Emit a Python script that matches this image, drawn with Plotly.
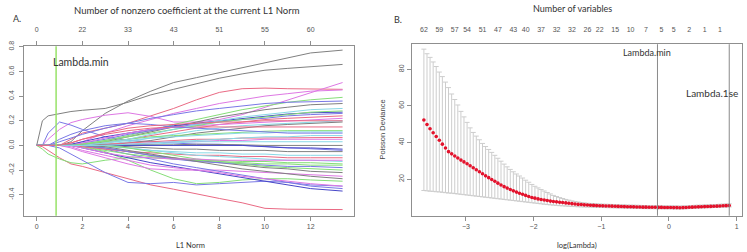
import plotly.graph_objects as go

# ---------------- Panel A data: coefficient paths vs L1 norm ----------------
l1_norm = [0, 0.25, 0.5, 1, 1.5, 2, 3, 4, 5, 6, 7, 8, 9, 10, 11, 12, 13.4]
top_a_vals = [0, 2, 4, 6, 8, 10, 12]
top_a_text = ["0", "22", "33", "43", "51", "55", "60"]

coef_paths = [
    ("K", [0, 0, 0, 0, 0.03, 0.12, 0.26, 0.36, 0.44, 0.51, 0.55, 0.59, 0.63, 0.67, 0.71, 0.75, 0.773]),
    ("K", [0, 0.2, 0.24, 0.26, 0.275, 0.285, 0.30, 0.35, 0.41, 0.455, 0.50, 0.545, 0.58, 0.61, 0.625, 0.64, 0.657]),
    ("R", [0, 0, 0, 0, 0.05, 0.1, 0.14, 0.18, 0.24, 0.30, 0.37, 0.43, 0.46, 0.465, 0.46, 0.46, 0.455]),
    ("M", [0, 0, 0.05, 0.13, 0.185, 0.21, 0.245, 0.265, 0.235, 0.19, 0.19, 0.21, 0.25, 0.31, 0.37, 0.43, 0.51]),
    ("M", [0, 0, 0, 0, 0, 0.03, 0.1, 0.16, 0.21, 0.26, 0.30, 0.34, 0.37, 0.40, 0.42, 0.44, 0.45]),
    ("G", [0, 0, 0, 0, 0, 0.01, 0.04, 0.08, 0.12, 0.17, 0.21, 0.25, 0.29, 0.32, 0.35, 0.37, 0.39]),
    ("K", [0, 0, 0, 0, 0, 0, 0.03, 0.07, 0.11, 0.15, 0.19, 0.23, 0.26, 0.29, 0.31, 0.33, 0.34]),
    ("B", [0, 0, 0, 0.03, 0.06, 0.09, 0.14, 0.18, 0.22, 0.25, 0.28, 0.30, 0.32, 0.34, 0.35, 0.355, 0.36]),
    ("B", [0, 0, 0.1, 0.19, 0.165, 0.13, 0.07, 0.04, 0.03, 0.02, 0.01, 0.01, 0.0, -0.01, -0.02, -0.03, -0.04]),
    ("D", [0, 0, 0, 0, 0.01, 0.03, 0.07, 0.10, 0.13, 0.16, 0.18, 0.20, 0.22, 0.24, 0.255, 0.265, 0.27]),
    ("B", [0, 0, 0, 0, 0, 0.02, 0.05, 0.09, 0.12, 0.15, 0.17, 0.19, 0.21, 0.22, 0.24, 0.25, 0.26]),
    ("R", [0, 0, 0, 0, 0, 0, 0.02, 0.05, 0.08, 0.11, 0.14, 0.17, 0.19, 0.21, 0.22, 0.23, 0.24]),
    ("M", [0, 0, 0, 0, 0, 0.02, 0.06, 0.10, 0.13, 0.15, 0.16, 0.17, 0.18, 0.19, 0.20, 0.21, 0.22]),
    ("C", [0, 0, 0, 0, 0, 0, 0.01, 0.03, 0.06, 0.09, 0.12, 0.14, 0.16, 0.17, 0.18, 0.19, 0.20]),
    ("K", [0, 0, 0, 0, 0, 0, 0, 0.02, 0.04, 0.07, 0.10, 0.12, 0.14, 0.16, 0.17, 0.18, 0.19]),
    ("G", [0, 0, 0, 0, 0, 0.01, 0.03, 0.05, 0.07, 0.08, 0.09, 0.10, 0.11, 0.115, 0.12, 0.12, 0.12]),
    ("C", [0, 0, 0, 0, 0, 0, 0.02, 0.04, 0.06, 0.07, 0.08, 0.09, 0.10, 0.10, 0.11, 0.11, 0.11]),
    ("R", [0, 0, 0, 0, 0.02, 0.05, 0.09, 0.12, 0.14, 0.15, 0.15, 0.15, 0.15, 0.15, 0.15, 0.15, 0.15]),
    ("R", [0, 0, 0, 0, 0, 0, 0.01, 0.02, 0.03, 0.04, 0.05, 0.05, 0.06, 0.06, 0.06, 0.06, 0.065]),
    ("M", [0, 0, 0, 0, 0, 0, 0, 0.01, 0.02, 0.03, 0.03, 0.04, 0.04, 0.05, 0.05, 0.05, 0.05]),
    ("C", [0, 0, 0, 0, 0, 0, 0, 0, 0.01, 0.02, 0.03, 0.03, 0.03, 0.03, 0.03, 0.03, 0.03]),
    ("K", [0, 0, 0, 0, 0, 0, 0, 0, 0, 0.005, 0.01, 0.01, 0.005, 0, 0, 0, 0]),
    ("D", [0, 0, 0, 0, 0, 0, 0, 0, 0, 0, 0, 0, 0, -0.01, -0.02, -0.02, -0.03]),
    ("R", [0, -0.01, -0.04, -0.1, -0.15, -0.17, -0.22, -0.27, -0.32, -0.355, -0.395, -0.43, -0.465, -0.51, -0.517, -0.517, -0.52]),
    ("G", [0, -0.03, -0.07, -0.11, -0.14, -0.15, -0.12, -0.10, -0.10, -0.11, -0.12, -0.12, -0.13, -0.13, -0.14, -0.14, -0.15]),
    ("B", [0, 0, 0, -0.02, -0.07, -0.12, -0.22, -0.30, -0.31, -0.30, -0.32, -0.31, -0.30, -0.29, -0.30, -0.32, -0.33]),
    ("G", [0, 0, 0, 0, 0, -0.01, -0.05, -0.12, -0.2, -0.27, -0.31, -0.3, -0.28, -0.27, -0.27, -0.28, -0.29]),
    ("M", [0, 0, 0, 0, -0.02, -0.05, -0.1, -0.15, -0.19, -0.2, -0.2, -0.2, -0.21, -0.22, -0.23, -0.24, -0.25]),
    ("D", [0, 0, 0, 0, 0, -0.02, -0.06, -0.10, -0.14, -0.17, -0.2, -0.23, -0.26, -0.29, -0.32, -0.35, -0.37]),
    ("B", [0, 0, 0, 0, 0, 0, -0.03, -0.07, -0.11, -0.15, -0.18, -0.21, -0.24, -0.27, -0.3, -0.33, -0.35]),
    ("M", [0, 0, 0, 0, -0.01, -0.04, -0.08, -0.12, -0.16, -0.18, -0.2, -0.22, -0.25, -0.27, -0.29, -0.31, -0.33]),
    ("K", [0, 0, 0, 0, 0, 0, -0.02, -0.05, -0.08, -0.1, -0.12, -0.14, -0.16, -0.18, -0.19, -0.21, -0.22]),
    ("G", [0, 0, 0, 0, 0, -0.01, -0.04, -0.07, -0.09, -0.11, -0.12, -0.13, -0.14, -0.15, -0.15, -0.16, -0.16]),
    ("C", [0, 0, 0, 0, 0, 0, -0.01, -0.02, -0.04, -0.05, -0.06, -0.06, -0.07, -0.07, -0.08, -0.08, -0.08]),
    ("K", [0, 0, 0, 0, 0, 0, 0, -0.01, -0.02, -0.03, -0.03, -0.04, -0.04, -0.04, -0.05, -0.05, -0.05]),
    ("R", [0, 0, 0, 0, 0, -0.01, -0.03, -0.05, -0.06, -0.07, -0.08, -0.08, -0.09, -0.09, -0.1, -0.1, -0.1]),
    ("B", [0, 0, 0, 0, 0, 0, -0.02, -0.05, -0.08, -0.11, -0.13, -0.14, -0.15, -0.16, -0.17, -0.17, -0.18]),
    ("C", [0, 0, 0, 0, 0, 0, 0, -0.02, -0.04, -0.06, -0.08, -0.09, -0.1, -0.11, -0.12, -0.12, -0.13]),
    ("K", [0, 0, 0, 0, 0, 0, -0.01, -0.04, -0.07, -0.1, -0.13, -0.16, -0.19, -0.21, -0.23, -0.25, -0.27]),
    ("G", [0, 0, 0, 0, 0, 0, 0, -0.02, -0.05, -0.08, -0.11, -0.13, -0.15, -0.17, -0.18, -0.19, -0.2]),
    ("M", [0, 0, 0, 0, 0, -0.02, -0.06, -0.09, -0.1, -0.11, -0.11, -0.12, -0.12, -0.12, -0.12, -0.12, -0.12]),
    ("C", [0, 0, 0, 0, 0, 0, 0, 0.01, 0.02, 0.03, 0.04, 0.05, 0.06, 0.07, 0.07, 0.08, 0.08]),
    ("G", [0, 0, 0, 0, 0, 0.01, 0.04, 0.07, 0.1, 0.13, 0.16, 0.19, 0.21, 0.23, 0.25, 0.27, 0.28]),
    ("C", [0, 0, 0, 0, 0, 0, 0.02, 0.05, 0.09, 0.13, 0.17, 0.2, 0.23, 0.25, 0.27, 0.29, 0.30]),
    ("B", [0, 0, 0, 0.05, 0.09, 0.12, 0.16, 0.18, 0.17, 0.15, 0.14, 0.13, 0.12, 0.11, 0.1, 0.1, 0.1]),
    ("R", [0, 0, 0, 0, 0.02, 0.05, 0.1, 0.14, 0.16, 0.17, 0.18, 0.19, 0.19, 0.2, 0.2, 0.2, 0.2]),
]
lambda_min_l1 = 0.85

# ---------------- Panel B data: cross-validation curve ----------------
log_lambda = [
    -3.620, -3.574, -3.529, -3.483, -3.438, -3.392, -3.347, -3.301, -3.256, -3.210,
    -3.164, -3.119, -3.073, -3.028, -2.982, -2.937, -2.891, -2.846, -2.800, -2.754,
    -2.709, -2.663, -2.618, -2.572, -2.527, -2.481, -2.435, -2.390, -2.344, -2.299,
    -2.253, -2.208, -2.162, -2.117, -2.071, -2.025, -1.980, -1.934, -1.889, -1.843,
    -1.798, -1.752, -1.707, -1.661, -1.615, -1.570, -1.524, -1.479, -1.433, -1.388,
    -1.342, -1.296, -1.251, -1.205, -1.160, -1.114, -1.069, -1.023, -0.978, -0.932,
    -0.886, -0.841, -0.795, -0.750, -0.704, -0.659, -0.613, -0.567, -0.522, -0.476,
    -0.431, -0.385, -0.340, -0.294, -0.249, -0.203, -0.157, -0.112, -0.066, -0.021,
    0.025, 0.070, 0.116, 0.161, 0.207, 0.252, 0.298, 0.344, 0.389, 0.435,
    0.480, 0.526, 0.571, 0.617, 0.662, 0.708, 0.753, 0.799, 0.844, 0.890,
]
cv_mean = [
    52.3, 49.8, 47.5, 45.3, 43.3, 41.2, 39.1, 37.0, 35.0, 33.8,
    32.6, 31.5, 30.4, 29.4, 28.4, 27.3, 26.2, 25.1, 24.0, 22.9,
    21.8, 20.8, 19.8, 18.8, 17.8, 16.8, 15.9, 15.1, 14.3, 13.6,
    12.9, 12.3, 11.7, 11.1, 10.5, 10.0, 9.6, 9.2, 8.9, 8.6,
    8.3, 8.0, 7.8, 7.6, 7.4, 7.2, 7.0, 6.8, 6.6, 6.4,
    6.2, 6.1, 5.95, 5.85, 5.75, 5.65, 5.55, 5.45, 5.4, 5.35,
    5.3, 5.25, 5.2, 5.1, 5.05, 5.0, 4.95, 4.9, 4.85, 4.8,
    4.75, 4.7, 4.7, 4.65, 4.6, 4.6, 4.55, 4.55, 4.5, 4.5,
    4.5, 4.45, 4.45, 4.4, 4.45, 4.5, 4.6, 4.7, 4.8, 4.85,
    4.9, 5.0, 5.05, 5.1, 5.2, 5.25, 5.35, 5.45, 5.5, 5.6,
]
cv_upper = [
    91.0, 88.5, 86.5, 84.0, 81.5, 78.5, 76.0, 73.0, 70.0, 66.5,
    63.5, 60.5, 57.0, 54.0, 51.0, 48.0, 45.5, 43.5, 41.5, 39.5,
    37.8, 36.2, 34.6, 33.0, 31.4, 29.8, 28.2, 26.7, 25.3, 24.0,
    22.8, 21.7, 20.6, 19.4, 18.3, 17.1, 16.1, 15.2, 14.3, 13.5,
    12.7, 11.9, 11.1, 10.5, 9.9, 9.4, 8.9, 8.5, 8.1, 7.8,
    7.5, 7.2, 7.0, 6.8, 6.7, 6.6, 6.5, 6.4, 6.3, 6.25,
    6.2, 6.15, 6.1, 6.0, 5.95, 5.9, 5.85, 5.8, 5.75, 5.7,
    5.65, 5.6, 5.6, 5.55, 5.5, 5.5, 5.45, 5.45, 5.4, 5.4,
    5.4, 5.35, 5.35, 5.3, 5.35, 5.4, 5.5, 5.6, 5.7, 5.75,
    5.8, 5.9, 5.95, 6.0, 6.1, 6.15, 6.25, 6.35, 6.4, 6.5,
]
cv_lower = [
    13.8, 13.6, 13.4, 13.3, 13.1, 13.0, 12.8, 12.6, 12.4, 12.3,
    12.1, 11.9, 11.7, 11.5, 11.3, 11.1, 10.9, 10.7, 10.5, 10.3,
    10.1, 9.9, 9.7, 9.5, 9.3, 9.1, 8.9, 8.7, 8.5, 8.3,
    8.1, 7.9, 7.7, 7.5, 7.3, 7.1, 6.9, 6.7, 6.5, 6.3,
    6.1, 5.95, 5.8, 5.65, 5.5, 5.4, 5.3, 5.2, 5.1, 5.0,
    4.9, 4.85, 4.8, 4.75, 4.7, 4.65, 4.6, 4.55, 4.5, 4.45,
    4.4, 4.35, 4.3, 4.25, 4.2, 4.15, 4.1, 4.05, 4.0, 4.0,
    3.95, 3.9, 3.9, 3.85, 3.85, 3.8, 3.8, 3.8, 3.75, 3.75,
    3.75, 3.7, 3.7, 3.7, 3.75, 3.8, 3.9, 4.0, 4.1, 4.15,
    4.2, 4.3, 4.35, 4.4, 4.5, 4.55, 4.6, 4.7, 4.75, 4.8,
]
nvar_index = [0, 5, 10, 14, 19, 24, 29, 33, 38, 43, 48, 53, 57, 62, 67, 72, 77, 81, 86, 91, 96]
nvar_text = ["62", "59", "57", "54", "51", "47", "43", "40", "37", "32", "32",
             "26", "22", "15", "10", "7", "5", "5", "2", "1", "1"]
log_lambda_min = -0.17
log_lambda_1se = 0.89

# ---------------- styling ----------------
W, H = 747, 252
palette = {"K": "#808080", "R": "#ea6a84", "G": "#86de78", "B": "#7a78e6",
           "C": "#88d8e6", "M": "#de78e4", "D": "#4646c8"}
AX = "#8f8f8f"
TICKF = dict(family="Liberation Sans, Arial, sans-serif", size=7, color="#555555")
TXTF = "Lato, Open Sans, sans-serif"


def px_x(p):
    return p / W


def px_y(p):
    return 1 - p / H


fig = go.Figure()

for col, vals in coef_paths:
    fig.add_trace(go.Scatter(x=l1_norm, y=vals, mode="lines",
                             line=dict(color=palette[col], width=1),
                             xaxis="x", yaxis="y", hoverinfo="skip", showlegend=False))

# invisible trace for top axis of panel A
fig.add_trace(go.Scatter(x=[0], y=[0], mode="markers", marker=dict(opacity=0),
                         xaxis="x3", yaxis="y", hoverinfo="skip", showlegend=False))

err_plus = [u - m for u, m in zip(cv_upper, cv_mean)]
err_minus = [m - l for m, l in zip(cv_mean, cv_lower)]
fig.add_trace(go.Scatter(
    x=log_lambda, y=cv_mean, mode="markers",
    marker=dict(color="#e3122c", size=3.6),
    error_y=dict(type="data", array=err_plus, arrayminus=err_minus,
                 color="#cdcdcd", thickness=1, width=2.5),
    xaxis="x2", yaxis="y2", hoverinfo="skip", showlegend=False))

fig.add_trace(go.Scatter(x=[log_lambda[0]], y=[0], mode="markers", marker=dict(opacity=0),
                         xaxis="x4", yaxis="y2", hoverinfo="skip", showlegend=False))

# vertical reference lines
fig.add_shape(type="line", xref="x", yref="y domain", x0=lambda_min_l1, x1=lambda_min_l1,
              y0=0, y1=1, line=dict(color="#98e268", width=1.5))
for v in (log_lambda_min, log_lambda_1se):
    fig.add_shape(type="line", xref="x2", yref="y2 domain", x0=v, x1=v, y0=0, y1=1,
                  line=dict(color="#8a8a8a", width=1))

axis_common = dict(showline=True, linecolor=AX, linewidth=1, mirror=True, ticks="outside",
                   ticklen=4, tickcolor=AX, showgrid=False, zeroline=False, tickfont=TICKF)

fig.update_layout(
    width=W, height=H, autosize=False,
    margin=dict(l=0, r=0, t=0, b=0),
    paper_bgcolor="white", plot_bgcolor="white",
    xaxis=dict(domain=[px_x(24), px_x(354)], range=[-0.556, 13.9],
               tickvals=[0, 2, 4, 6, 8, 10, 12], anchor="y", **axis_common),
    yaxis=dict(domain=[px_y(215), px_y(42)], range=[-0.570, 0.805],
               tickvals=[-0.4, -0.2, 0.0, 0.2, 0.4, 0.6, 0.8],
               ticktext=["-0.4", "-0.2", "0.0", "0.2", "0.4", "0.6", "0.8"],
               tickangle=-90, ticklabelstandoff=2, anchor="x", **axis_common),
    xaxis3=dict(overlaying="x", side="top", range=[-0.556, 13.9], anchor="y",
                tickvals=top_a_vals, ticktext=top_a_text, ticks="outside", ticklen=4,
                ticklabelstandoff=6,
                tickcolor=AX, showgrid=False, zeroline=False, showline=False, tickfont=TICKF),
    xaxis2=dict(domain=[px_x(411.7), px_x(741.7)], range=[-3.80, 1.074],
                tickvals=[-3, -2, -1, 0, 1], anchor="y2", **axis_common),
    yaxis2=dict(domain=[px_y(215), px_y(40)], range=[0, 93.7],
                tickvals=[20, 40, 60, 80], tickangle=-90, anchor="x2", **axis_common),
    xaxis4=dict(overlaying="x2", side="top", range=[-3.80, 1.074], anchor="y2",
                tickvals=[log_lambda[i] for i in nvar_index], ticktext=nvar_text,
                ticks="", ticklabelstandoff=10,
                showgrid=False, zeroline=False, showline=False, tickfont=TICKF),
)

annos = [
    dict(text="Number of nonzero coefficient at the current L1 Norm", x=px_x(187), y=px_y(6), size=9.5),
    dict(text="A.", x=px_x(17), y=px_y(14), size=9),
    dict(text="Number of variables", x=px_x(572), y=px_y(4), size=9),
    dict(text="B.", x=px_x(398), y=px_y(15), size=9),
    dict(text="L1 Norm", x=px_x(190), y=px_y(245), size=7.5),
    dict(text="log(Lambda)", x=px_x(577), y=px_y(245), size=7.5),
    dict(text="Lambda.min", x=px_x(81), y=px_y(58), size=10.5),
    dict(text="Lambda.min", x=px_x(647), y=px_y(48), size=9),
    dict(text="Lambda.1se", x=px_x(712), y=px_y(90), size=10),
]
for a in annos:
    fig.add_annotation(text=a["text"], x=a["x"], y=a["y"], xref="paper", yref="paper",
                       xanchor="center", yanchor="middle", showarrow=False,
                       font=dict(family=TXTF, size=a["size"], color="#333333"))
fig.add_annotation(text="Poisson Deviance", x=px_x(382), y=px_y(127), xref="paper", yref="paper",
                   xanchor="center", yanchor="middle", showarrow=False, textangle=-90,
                   font=dict(family="Liberation Sans, Arial, sans-serif", size=7.5, color="#444444"))

fig.write_html("out.html")
